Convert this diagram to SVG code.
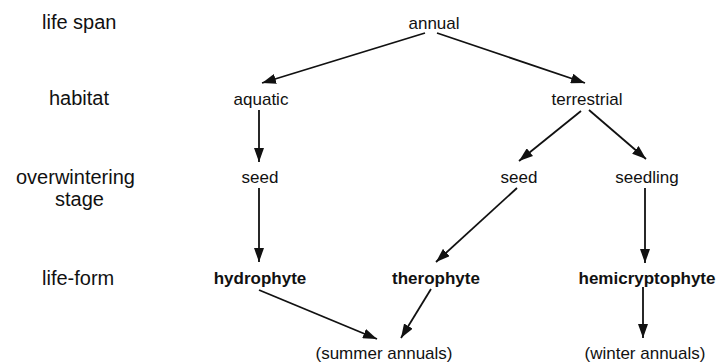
<svg xmlns="http://www.w3.org/2000/svg" width="721" height="364" viewBox="0 0 721 364">
<defs>
<marker id="ah" viewBox="0 0 14 10" refX="14" refY="5" markerWidth="14" markerHeight="10" markerUnits="userSpaceOnUse" orient="auto">
<path d="M0,0 L14,5 L0,10 z" fill="#111"/>
</marker>
<style>
text{font-family:"Liberation Sans",Arial,sans-serif;fill:#111}
.lab{font-size:20px}
.n{font-size:17px;text-anchor:middle}
.b{font-weight:bold}
.e{stroke:#111;stroke-width:1.8;fill:none;marker-end:url(#ah)}
</style>
</defs>
<g id="row-labels">
<text class="lab" x="42" y="29">life span</text>
<text class="lab" x="49" y="105">habitat</text>
<text class="lab" x="16" y="184">overwintering</text>
<text class="lab" x="55" y="206">stage</text>
<text class="lab" x="42" y="285">life-form</text>
</g>
<g id="annual"><text class="n" x="434" y="29">annual</text></g>
<g id="aquatic"><text class="n" x="261" y="105">aquatic</text></g>
<g id="terrestrial"><text class="n" x="587" y="105">terrestrial</text></g>
<g id="seed1"><text class="n" x="260" y="183">seed</text></g>
<g id="seed2"><text class="n" x="519" y="183">seed</text></g>
<g id="seedling"><text class="n" x="647" y="183">seedling</text></g>
<g id="hydrophyte"><text class="n b" x="260" y="284">hydrophyte</text></g>
<g id="therophyte"><text class="n b" x="436" y="284">therophyte</text></g>
<g id="hemicryptophyte"><text class="n b" x="647" y="284">hemicryptophyte</text></g>
<g id="summer"><text class="n" x="384" y="359">(summer annuals)</text></g>
<g id="winter"><text class="n" x="645" y="359">(winter annuals)</text></g>
<g id="connectors">
<line class="e" x1="425" y1="33" x2="262" y2="83"/>
<line class="e" x1="437" y1="33" x2="585" y2="83"/>
<line class="e" x1="259" y1="110" x2="259" y2="162"/>
<line class="e" x1="259" y1="188" x2="259" y2="262"/>
<line class="e" x1="581" y1="111" x2="519" y2="161"/>
<line class="e" x1="589" y1="110" x2="646" y2="159"/>
<line class="e" x1="517" y1="188" x2="436" y2="262"/>
<line class="e" x1="645" y1="188" x2="645" y2="263"/>
<line class="e" x1="259" y1="290" x2="377" y2="339"/>
<line class="e" x1="431" y1="289" x2="401" y2="338"/>
<line class="e" x1="643" y1="287" x2="643" y2="338"/>
</g>
</svg>
